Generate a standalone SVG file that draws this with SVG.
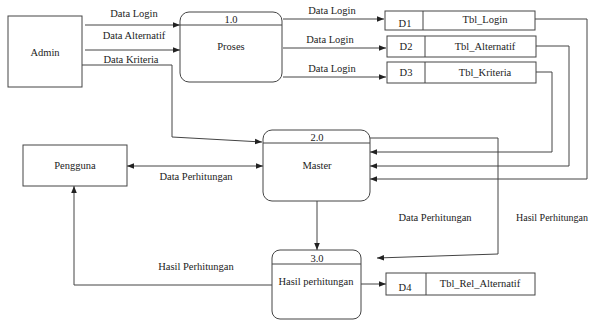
<svg xmlns="http://www.w3.org/2000/svg" width="592" height="320" viewBox="0 0 592 320" font-family="'Liberation Serif', serif" font-size="10.5">
<defs>
<marker id="ah" viewBox="0 0 10 10" refX="10" refY="5" markerWidth="7" markerHeight="7" markerUnits="userSpaceOnUse" orient="auto-start-reverse">
<path d="M0,1 L10,5 L0,9 z" fill="#222"/>
</marker>
<style>
.box{fill:#fff;stroke:#444;stroke-width:1}
.ln{fill:none;stroke:#444;stroke-width:1}
text{fill:#222;text-anchor:middle}
</style>
</defs>
<rect width="592" height="320" fill="#fff"/>
<g id="connectors">
<path class="ln" d="M85,25 H180" marker-end="url(#ah)"/>
<path class="ln" d="M85,50 H180" marker-end="url(#ah)"/>
<path class="ln" d="M82,65 H172 V137 L262,142" marker-end="url(#ah)"/>
<path class="ln" d="M283,19 H384" marker-end="url(#ah)"/>
<path class="ln" d="M283,48 H386" marker-end="url(#ah)"/>
<path class="ln" d="M283,77 H386" marker-end="url(#ah)"/>
<path class="ln" d="M535,19 H587 V179 H370" marker-end="url(#ah)"/>
<path class="ln" d="M536,46 H569 V166 H370" marker-end="url(#ah)"/>
<path class="ln" d="M536,72 H552 V152 H370" marker-end="url(#ah)"/>
<path class="ln" d="M370,138 H498 V254 L377,258" marker-end="url(#ah)"/>
<path class="ln" d="M127,166 H263" marker-start="url(#ah)" marker-end="url(#ah)"/>
<path class="ln" d="M317,201 V250" marker-end="url(#ah)"/>
<path class="ln" d="M272,285 H74 V186" marker-end="url(#ah)"/>
<path class="ln" d="M361,284 H386" marker-end="url(#ah)"/>
<text x="134" y="17">Data Login</text>
<text x="134" y="39">Data Alternatif</text>
<text x="131" y="63">Data Kriteria</text>
<text x="332" y="14">Data Login</text>
<text x="330" y="43">Data Login</text>
<text x="332" y="72">Data Login</text>
<text x="196" y="180">Data Perhitungan</text>
<text x="435" y="221">Data Perhitungan</text>
<text x="516" y="221" font-size="10" style="text-anchor:start">Hasil  Perhitungan</text>
<text x="196" y="270">Hasil  Perhitungan</text>
</g>
<g id="admin">
<rect class="box" x="8" y="16" width="74" height="71"/>
<text x="45" y="56">Admin</text>
</g>
<g id="p1">
<rect class="box" x="180" y="12" width="102" height="70" rx="9"/>
<path class="ln" d="M180,25 H282"/>
<text x="231" y="23">1.0</text>
<text x="231" y="50">Proses</text>
</g>
<g id="d1">
<rect class="box" x="385" y="11" width="150" height="19"/>
<path class="ln" d="M423,11 V30"/>
<text x="405" y="27">D1</text>
<text x="485" y="23">Tbl_Login</text>
</g>
<g id="d2">
<rect class="box" x="387" y="36" width="149" height="21"/>
<path class="ln" d="M425,36 V57"/>
<text x="406" y="50">D2</text>
<text x="485" y="50">Tbl_Alternatif</text>
</g>
<g id="d3">
<rect class="box" x="387" y="62" width="149" height="21"/>
<path class="ln" d="M425,62 V83"/>
<text x="406" y="76">D3</text>
<text x="485" y="76">Tbl_Kriteria</text>
</g>
<g id="pengguna">
<rect class="box" x="23" y="145" width="104" height="41"/>
<text x="75" y="169">Pengguna</text>
</g>
<g id="p2">
<rect class="box" x="263" y="130" width="107" height="71" rx="9"/>
<path class="ln" d="M263,143 H370"/>
<text x="317" y="141">2.0</text>
<text x="317" y="169">Master</text>
</g>
<g id="p3">
<rect class="box" x="272" y="250" width="89" height="69" rx="8"/>
<path class="ln" d="M272,264 H361"/>
<text x="317" y="262">3.0</text>
<text x="316" y="285">Hasil perhitungan</text>
</g>
<g id="d4">
<rect class="box" x="386" y="273" width="149" height="22"/>
<path class="ln" d="M426,273 V295"/>
<text x="405" y="291">D4</text>
<text x="480" y="287">Tbl_Rel_Alternatif</text>
</g>
</svg>
